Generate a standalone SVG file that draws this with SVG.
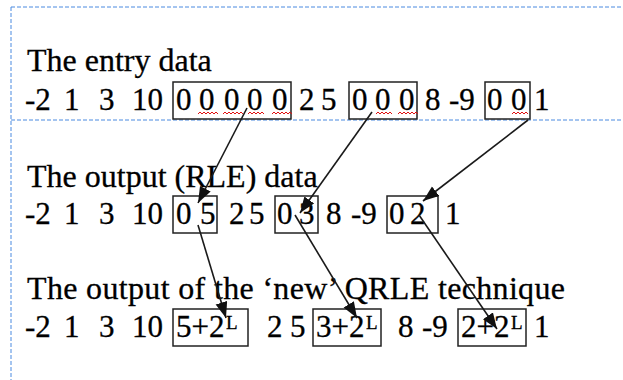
<svg xmlns="http://www.w3.org/2000/svg" width="623" height="380" viewBox="0 0 623 380">
<style>
text{font-family:"Liberation Serif","Times New Roman",serif;fill:#000;stroke:#000;stroke-width:0.3}
.h{font-size:32px}
.d{font-size:31px}
.s{font-size:19px}
.box{fill:none;stroke:#222;stroke-width:1.5}
.dash{fill:none;stroke:#4A8AE0;stroke-width:1;stroke-dasharray:4,2}
.sq{fill:none;stroke:#e01010;stroke-width:1}
.arr{fill:none;stroke:#1a1a1a;stroke-width:1.6;marker-end:url(#ah)}
</style>
<defs>
<marker id="ah" markerUnits="userSpaceOnUse" markerWidth="18" markerHeight="14" refX="16" refY="6" orient="auto">
<path d="M0,0 L16,6 L0,12 z" fill="#111"/>
</marker>
</defs>
<rect width="623" height="380" fill="#fff"/>
<g id="frame">
<path class="dash" d="M11,7 H623 M11,7 V380 M11,120 H623"/>
</g>
<g id="entry">
<text class="h" x="27" y="71">The entry data</text>
<text class="d" y="110"><tspan x="25">-2</tspan><tspan x="64">1</tspan><tspan x="99">3</tspan><tspan x="132">10</tspan><tspan x="176">0</tspan><tspan x="199">0</tspan><tspan x="224">0</tspan><tspan x="247">0</tspan><tspan x="272">0</tspan><tspan x="299">2</tspan><tspan x="321">5</tspan><tspan x="352">0</tspan><tspan x="375">0</tspan><tspan x="399">0</tspan><tspan x="425">8</tspan><tspan x="449">-9</tspan><tspan x="487">0</tspan><tspan x="511">0</tspan><tspan x="534">1</tspan></text>
<rect class="box" x="173" y="82" width="118" height="37"/>
<rect class="box" x="349" y="82" width="68" height="37"/>
<rect class="box" x="485" y="82" width="45" height="37"/>
<path class="sq" d="M198,114 l2,-2 l2,2 l2,-2 l2,2 l2,-2 l2,2 l2,-2 l2,2 l2,-2 l2,2 M223,114 l2,-2 l2,2 l2,-2 l2,2 l2,-2 l2,2 l2,-2 l2,2 l2,-2 l2,2 M248,114 l2,-2 l2,2 l2,-2 l2,2 l2,-2 l2,2 l2,-2 l2,2 M272,114 l2,-2 l2,2 l2,-2 l2,2 l2,-2 l2,2 l2,-2 l2,2 l2,-2 l2,2 M376,114 l2,-2 l2,2 l2,-2 l2,2 l2,-2 l2,2 l2,-2 l2,2 M398,114 l2,-2 l2,2 l2,-2 l2,2 l2,-2 l2,2 l2,-2 l2,2 l2,-2 l2,2 M512,114 l2,-2 l2,2 l2,-2 l2,2 l2,-2 l2,2 l2,-2 l2,2"/>
</g>
<g id="rle">
<text class="h" x="27" y="187">The output (RLE) data</text>
<text class="d" y="224"><tspan x="25">-2</tspan><tspan x="64">1</tspan><tspan x="99">3</tspan><tspan x="132">10</tspan><tspan x="176">0</tspan><tspan x="200">5</tspan><tspan x="229">2</tspan><tspan x="249">5</tspan><tspan x="277">0</tspan><tspan x="299">3</tspan><tspan x="326">8</tspan><tspan x="351">-9</tspan><tspan x="389">0</tspan><tspan x="410">2</tspan><tspan x="445">1</tspan></text>
<rect class="box" x="173" y="196" width="44" height="37"/>
<rect class="box" x="275" y="196" width="43" height="37"/>
<rect class="box" x="387" y="196" width="51" height="37"/>
</g>
<g id="qrle">
<text class="h" x="27" y="299" textLength="538">The output of the ‘new’ QRLE technique</text>
<text class="d" y="337"><tspan x="25">-2</tspan><tspan x="64">1</tspan><tspan x="99">3</tspan><tspan x="132">10</tspan><tspan x="176">5+2</tspan><tspan x="267">2</tspan><tspan x="290">5</tspan><tspan x="316">3+2</tspan><tspan x="398">8</tspan><tspan x="422">-9</tspan><tspan x="461">2+2</tspan><tspan x="534">1</tspan></text>
<text class="s" y="329"><tspan x="226">L</tspan><tspan x="366">L</tspan><tspan x="511">L</tspan></text>
<rect class="box" x="173" y="309" width="75" height="37"/>
<rect class="box" x="313" y="309" width="68" height="37"/>
<rect class="box" x="458" y="309" width="68" height="37"/>
</g>
<g id="connectors">
<line class="arr" x1="247" y1="108" x2="198" y2="203"/>
<line class="arr" x1="372" y1="112" x2="300" y2="213"/>
<line class="arr" x1="528" y1="120" x2="423" y2="201"/>
<line class="arr" x1="198" y1="225" x2="226" y2="318"/>
<line class="arr" x1="295" y1="215" x2="357" y2="318"/>
<line class="arr" x1="419" y1="215" x2="497" y2="329"/>
</g>
</svg>
